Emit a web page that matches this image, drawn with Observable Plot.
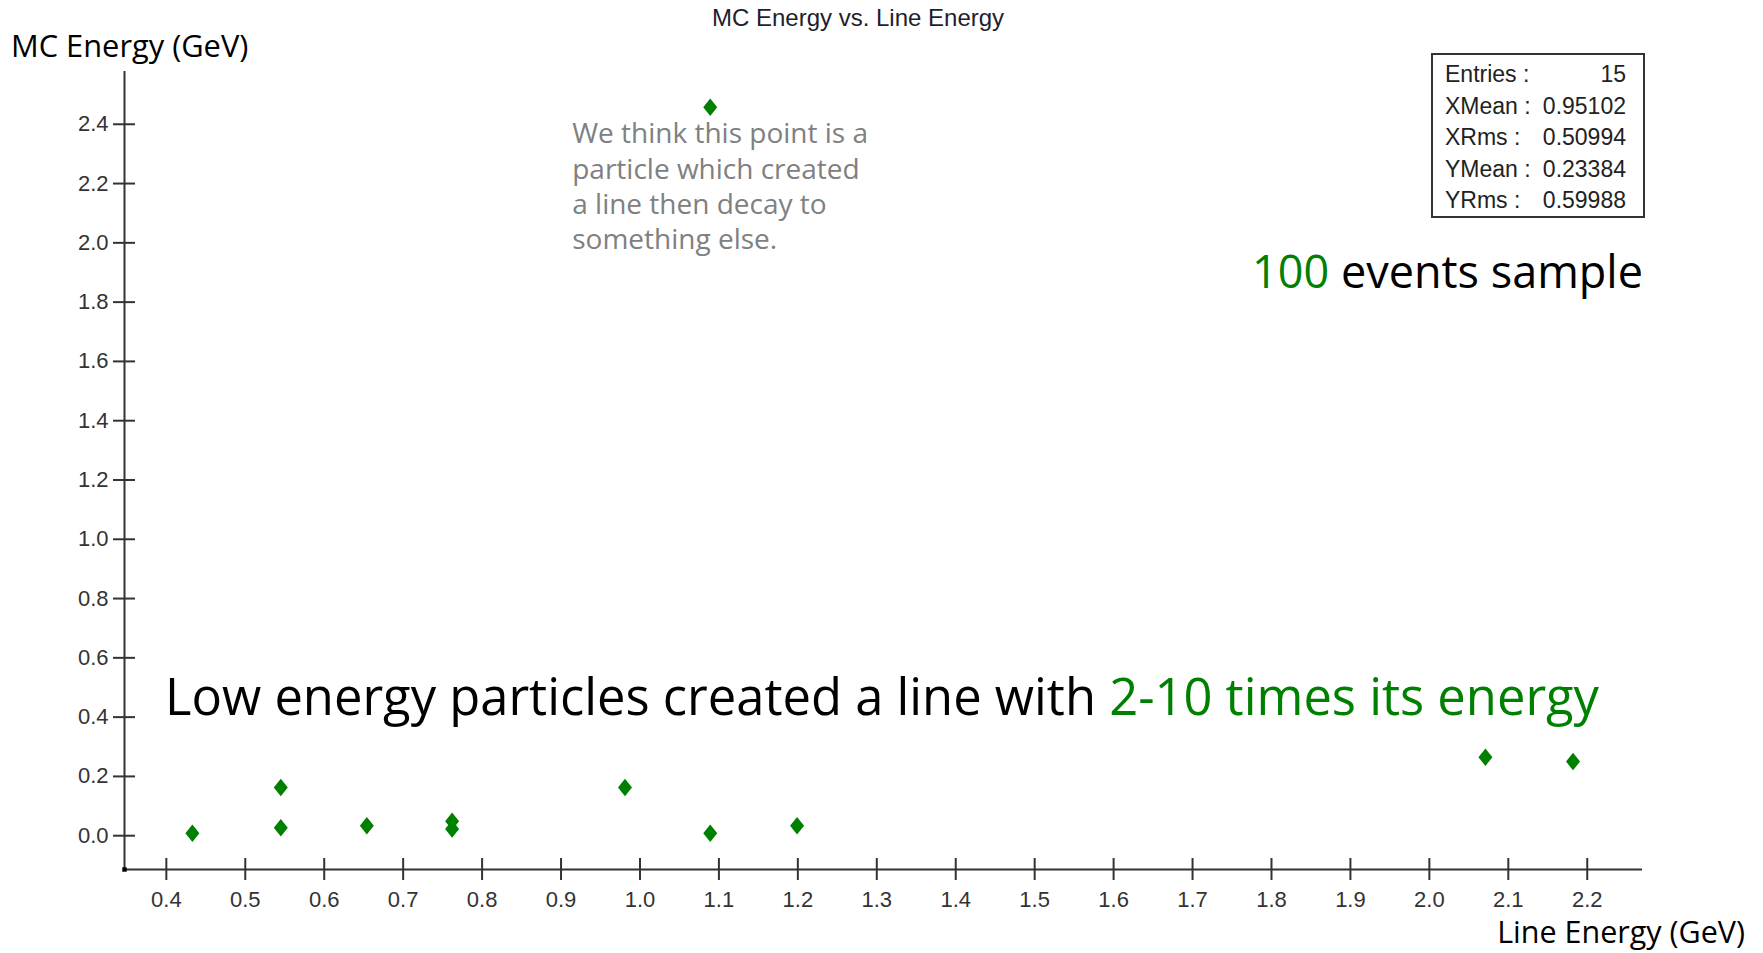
<!DOCTYPE html>
<html>
<head>
<meta charset="utf-8">
<script src="https://cdn.jsdelivr.net/npm/d3@7"></script>
<script src="https://cdn.jsdelivr.net/npm/@observablehq/plot@0.6"></script>
<style>
  html, body { margin: 0; padding: 0; background: #fff; }
  #chart svg { display: block; }
</style>
</head>
<body>
<div id="chart"></div>
<script>
// Reconstructed line energy vs. Monte Carlo energy (GeV), 100 events sample
const lineEnergy = [0.433, 0.545, 0.545, 0.654, 0.762, 0.762, 0.981, 1.089, 1.089, 1.199, 2.071, 2.182];
const mcEnergy   = [0.008, 0.163, 0.027, 0.034, 0.049, 0.023, 0.163, 2.457, 0.008, 0.034, 0.265, 0.250];

// axis ticks
const xTicks = d3.range(4, 23).map(d => d / 10);
const yTicks = d3.range(0, 13).map(d => d / 5);

// statistics box
const statLabels = ["Entries :", "XMean :", "XRms :", "YMean :", "YRms :"];
const statValues = ["15", "0.95102", "0.50994", "0.23384", "0.59988"];

// index of the outlier that gets the grey note
const outlierIndex = 7;
const outlierNote = "We think this point is a\nparticle which created\na line then decay to\nsomething else.";

const points = lineEnergy.map((x, i) => ({x, y: mcEnergy[i]}));

const xDomain = [0.347, 2.27];
const yDomain = [-0.114, 2.578];

// a slightly tall diamond marker
const tallDiamond = {
  draw(context, size) {
    const r = Math.sqrt(size / Math.PI);
    const w = r, h = r * 1.25;
    context.moveTo(0, -h);
    context.lineTo(w, 0);
    context.lineTo(0, h);
    context.lineTo(-w, 0);
    context.closePath();
  }
};

const axisColor = "#333";
const sansUI = "'Open Sans', 'Noto Sans', sans-serif";
const sansPlain = "'Liberation Sans', Arial, sans-serif";

const chart = Plot.plot({
  width: 1763,
  height: 953,
  marginLeft: 124,
  marginRight: 121,
  marginTop: 71,
  marginBottom: 84,
  style: {fontFamily: sansPlain, fontSize: "22px", color: axisColor, background: "#fff"},
  x: {domain: xDomain},
  y: {domain: yDomain},
  marks: [
    Plot.axisY({ticks: yTicks, tickFormat: d => d.toFixed(1), tickSize: 22, dx: 11, tickPadding: 5,
                strokeWidth: 2, fontSize: 22, label: null}),
    Plot.axisX({ticks: xTicks, tickFormat: d => d.toFixed(1), tickSize: 22, dy: -11, tickPadding: 11,
                strokeWidth: 2, fontSize: 22, label: null}),
    Plot.ruleX([xDomain[0]], {stroke: axisColor, strokeWidth: 2}),
    Plot.ruleY([yDomain[0]], {stroke: axisColor, strokeWidth: 2}),
    Plot.dot([{x: xDomain[0], y: yDomain[0]}], {x: "x", y: "y", symbol: "square", r: 2.5, fill: "#000"}),
    Plot.dot(points, {x: "x", y: "y", symbol: tallDiamond, r: 7, fill: "#008000"}),
    Plot.text([points[outlierIndex]], {
      x: "x", y: "y", text: () => outlierNote,
      textAnchor: "start", lineAnchor: "top", dx: -138, dy: 11,
      lineHeight: 1.257, fontSize: 28, fill: "#808080",
      fontFamily: sansUI
    })
  ]
});

const svg = d3.select(chart);

function addText(x, y, anchor, family, size, fill, content) {
  return svg.append("text")
    .attr("x", x).attr("y", y)
    .attr("text-anchor", anchor)
    .attr("font-family", family).attr("font-size", size)
    .attr("fill", fill)
    .text(content);
}

// chart title
addText(858, 26, "middle", sansPlain, 24, "#1e1e2e", "MC Energy vs. Line Energy");

// axis labels
addText(11, 57, "start", sansUI, 30.8, "#000", "MC Energy (GeV)");
addText(1745, 943, "end", sansUI, 30.5, "#000", "Line Energy (GeV)");

// statistics box
svg.append("rect")
  .attr("x", 1432).attr("y", 54).attr("width", 212).attr("height", 163)
  .attr("fill", "#fff").attr("stroke", axisColor).attr("stroke-width", 2);

statLabels.forEach((label, i) => {
  const y = 82 + i * 31.6;
  addText(1445, y, "start", sansPlain, 23, "#222", label);
  addText(1626, y, "end", sansPlain, 23, "#222", statValues[i]);
});

// sample size note
const sample = svg.append("text")
  .attr("x", 1643).attr("y", 288)
  .attr("text-anchor", "end")
  .attr("font-family", sansUI).attr("font-size", 45);
sample.append("tspan").attr("fill", "#008000").text("100");
sample.append("tspan").attr("fill", "#000").text(" events sample");

// low-energy note
const low = svg.append("text")
  .attr("x", 165).attr("y", 715)
  .attr("text-anchor", "start")
  .attr("font-family", sansUI).attr("font-size", 50.7);
low.append("tspan").attr("fill", "#000").text("Low energy particles created a line with ");
low.append("tspan").attr("fill", "#008000").text("2-10 times its energy");

document.getElementById("chart").appendChild(chart);
</script>
</body>
</html>
